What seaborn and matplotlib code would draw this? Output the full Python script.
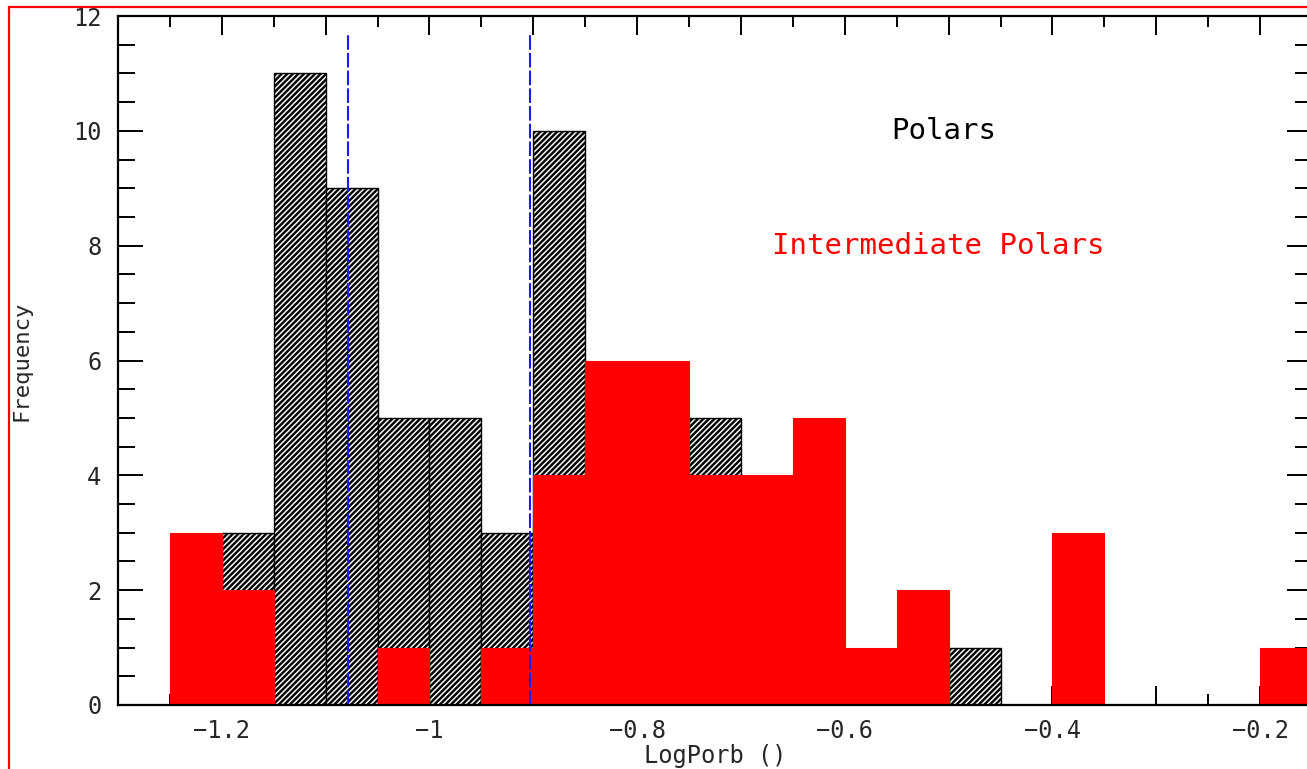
import numpy as np
import pandas as pd
import matplotlib
matplotlib.use("Agg")
import matplotlib.pyplot as plt
import matplotlib.patches as mpatches
from matplotlib.ticker import MultipleLocator, FuncFormatter
import seaborn as sns

# Histogram bins in log orbital period (width 0.05)
bin_left = [-1.25, -1.20, -1.15, -1.10, -1.05, -1.00, -0.95, -0.90, -0.85, -0.80, -0.75,
            -0.70, -0.65, -0.60, -0.55, -0.50, -0.45, -0.40, -0.35, -0.30, -0.25, -0.20]
bin_width = 0.05

# Counts per bin
polars_counts = [0, 3, 11, 9, 5, 5, 3, 10, 0, 0, 5,
                 0, 0, 0, 0, 1, 0, 0, 0, 0, 0, 0]
ip_counts = [3, 2, 0, 0, 1, 0, 1, 4, 6, 6, 4,
             4, 5, 1, 2, 0, 0, 3, 0, 0, 0, 1]

# Period-gap markers
gap_edges = [-1.0786, -0.903]
gap_top = 11.72

x_label = "LogPorb ()"
y_label = "Frequency"
text_polars = "Polars"
text_ip = "Intermediate Polars"

sns.set_style("ticks")
plt.rcParams["font.family"] = ["DejaVu Sans Mono", "DejaVu Sans"]
plt.rcParams["hatch.linewidth"] = 1.7
plt.rcParams["hatch.color"] = "black"

edges = [b for b in bin_left] + [bin_left[-1] + bin_width]
centers = [b + bin_width / 2 for b in bin_left]
df = pd.DataFrame({"center": centers, "polars": polars_counts, "ip": ip_counts})

fig = plt.figure(figsize=(13.07, 7.69), dpi=100)
W, H = 1307, 769
ax = fig.add_axes([118 / W, (H - 705) / H, (1312 - 118) / W, (705 - 16) / H])

sns.histplot(data=df, x="center", weights="polars", bins=edges, ax=ax,
             stat="count", element="bars", fill=True, color="#f4f4f4",
             edgecolor="black", linewidth=1.0, alpha=1, hatch="//////", zorder=2)
sns.histplot(data=df, x="center", weights="ip", bins=edges, ax=ax,
             stat="count", element="bars", fill=True, color="#ff0000",
             edgecolor="#ff0000", linewidth=0.8, alpha=1, zorder=3)

ax.axhline(0, color="#ff0000", lw=2.2, zorder=4)
for gx in gap_edges:
    ax.plot([gx, gx], [0, gap_top], color="#1a1aff", lw=1.5,
            dashes=(7, 1.5), zorder=5)

ax.set_xlim(-1.3, -0.15)
ax.set_ylim(0, 12)


def x_fmt(v, pos):
    k = int(round(v * 10))
    if k % 2 != 0:
        return ""
    return ("%g" % round(v, 2)).replace("-", "\u2212")


ax.xaxis.set_major_locator(MultipleLocator(0.1))
ax.xaxis.set_minor_locator(MultipleLocator(0.05))
ax.yaxis.set_major_locator(MultipleLocator(2))
ax.yaxis.set_minor_locator(MultipleLocator(0.5))
ax.xaxis.set_major_formatter(FuncFormatter(x_fmt))
ax.yaxis.set_major_formatter(FuncFormatter(lambda v, p: "%d" % v))

ax.tick_params(axis="both", which="both", direction="in", top=True, right=True,
               color="black", width=1.4, labelsize=17)
ax.tick_params(axis="x", which="major", length=14, pad=10)
ax.tick_params(axis="x", which="minor", length=8)
ax.tick_params(axis="y", which="major", length=18, pad=12)
ax.tick_params(axis="y", which="minor", length=12)

for s in ax.spines.values():
    s.set_linewidth(1.6)
    s.set_color("black")
    s.set_zorder(6)

ax.set_xlabel(x_label, fontsize=17, labelpad=1)
ax.set_ylabel(y_label, fontsize=16, labelpad=30)

ax.text(-0.505, 10.0, text_polars, color="black", fontsize=21,
        ha="center", va="center", zorder=7)
ax.text(-0.51, 8.0, text_ip, color="#ff0000", fontsize=21,
        ha="center", va="center", zorder=7)

# Figure frame
fig.patches.append(mpatches.Rectangle((9 / W, -0.05), 1.2, 1 - 7 / H + 0.05,
                                      transform=fig.transFigure, fill=False,
                                      edgecolor="#ff0000", lw=1.6))

fig.savefig("out.png", dpi=100)
